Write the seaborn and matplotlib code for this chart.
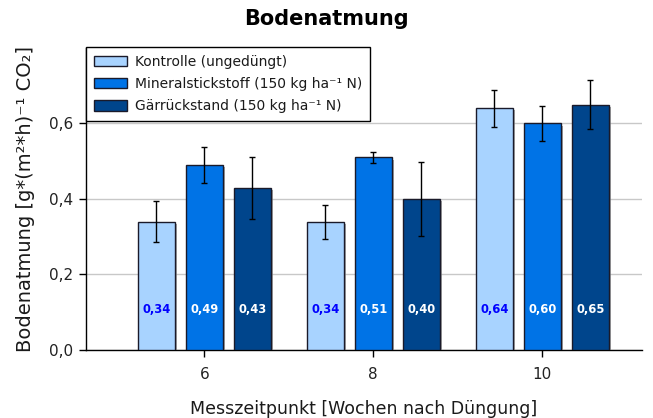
import pandas as pd
import matplotlib.pyplot as plt
import matplotlib.patheffects as pe
from matplotlib.ticker import FuncFormatter
import seaborn as sns

# --- DATEN ---
wochen = ["6", "8", "10"]
varianten = ["Kontrolle (ungedüngt)",
             "Mineralstickstoff (150 kg ha⁻¹ N)",
             "Gärrückstand (150 kg ha⁻¹ N)"]
kontrolle = [0.34, 0.34, 0.64]
mineral = [0.49, 0.51, 0.60]
gaerrest = [0.43, 0.40, 0.65]
err_kontrolle = [0.054, 0.045, 0.048]
err_mineral = [0.047, 0.015, 0.047]
err_gaerrest = [0.082, 0.099, 0.064]

farben = ["#A8D3FF", "#0073E6", "#00458C"]
textfarben = ["#0000FF", "white", "white"]

werte = [kontrolle, mineral, gaerrest]
fehler = [err_kontrolle, err_mineral, err_gaerrest]
df = pd.DataFrame({
    "Woche": wochen * 3,
    "Variante": [v for v in varianten for _ in wochen],
    "Wert": kontrolle + mineral + gaerrest,
})

sns.set_style("white")
plt.rcParams['font.family'] = ['DejaVu Sans']

fig = plt.figure(figsize=(6.53, 4.18), dpi=100)
ax = fig.add_axes([0.1317, 0.1627, 0.8515, 0.7225])

sns.barplot(data=df, x="Woche", y="Wert", hue="Variante", order=wochen,
            hue_order=varianten, palette=farben, saturation=1, width=0.85, gap=0.22,
            errorbar=None, edgecolor="#1a1a2a", linewidth=1, ax=ax, zorder=3)

# Fehlerbalken + Beschriftung
balken = list(ax.containers)
for i, cont in enumerate(balken):
    for j, bar in enumerate(cont):
        bar.set_path_effects([pe.SimplePatchShadow(offset=(1.5, -1.5), shadow_rgbFace="#808080", alpha=0.7),
                              pe.Normal()])
        xc = bar.get_x() + bar.get_width() / 2
        ax.errorbar(xc, werte[i][j], yerr=fehler[i][j], color="black", lw=1,
                    capsize=2.5, capthick=1, zorder=5)
        ax.text(xc, 0.108, f"{werte[i][j]:.2f}".replace(".", ","), ha="center", va="center",
                color=textfarben[i], fontsize=8.3, fontweight="bold", zorder=6)

ax.set_ylim(0, 0.8)
ax.set_xlim(-0.7, 2.59)
ax.set_yticks([0, 0.2, 0.4, 0.6])
ax.yaxis.set_major_formatter(FuncFormatter(lambda v, p: f"{v:.1f}".replace(".", ",")))
ax.yaxis.grid(True, color="#C8C8C8", lw=1, zorder=0)
ax.set_axisbelow(True)
for s in ["top", "right"]:
    ax.spines[s].set_visible(False)
for s in ["left", "bottom"]:
    ax.spines[s].set_color("black")
    ax.spines[s].set_linewidth(1)
ax.tick_params(axis="both", direction="out", length=5, width=1, color="black",
               labelsize=11, labelcolor="#222222", bottom=True, left=True)
ax.tick_params(axis="x", pad=7)
ax.tick_params(axis="y", pad=4.5)

ax.set_xlabel("Messzeitpunkt [Wochen nach Düngung]", fontsize=12.5, labelpad=13, color="#1a1a1a")
ax.set_ylabel("Bodenatmung [g*(m²*h)⁻¹ CO₂]", fontsize=14, labelpad=10, color="#1a1a1a")
fig.suptitle("Bodenatmung", fontsize=15, fontweight="bold", y=0.978, color="black")

leg = ax.legend(loc="upper left", bbox_to_anchor=(86 / 653, 1 - 47 / 418),
                bbox_transform=fig.transFigure, fontsize=10, frameon=True,
                fancybox=False, edgecolor="black", framealpha=1,
                handlelength=2.4, handleheight=0.8, labelspacing=0.6, handletextpad=0.6,
                borderpad=0.55, borderaxespad=0)
leg.get_frame().set_linewidth(1)
for t in leg.get_texts():
    t.set_color("#1a1a1a")

plt.savefig("out.png", dpi=100)
